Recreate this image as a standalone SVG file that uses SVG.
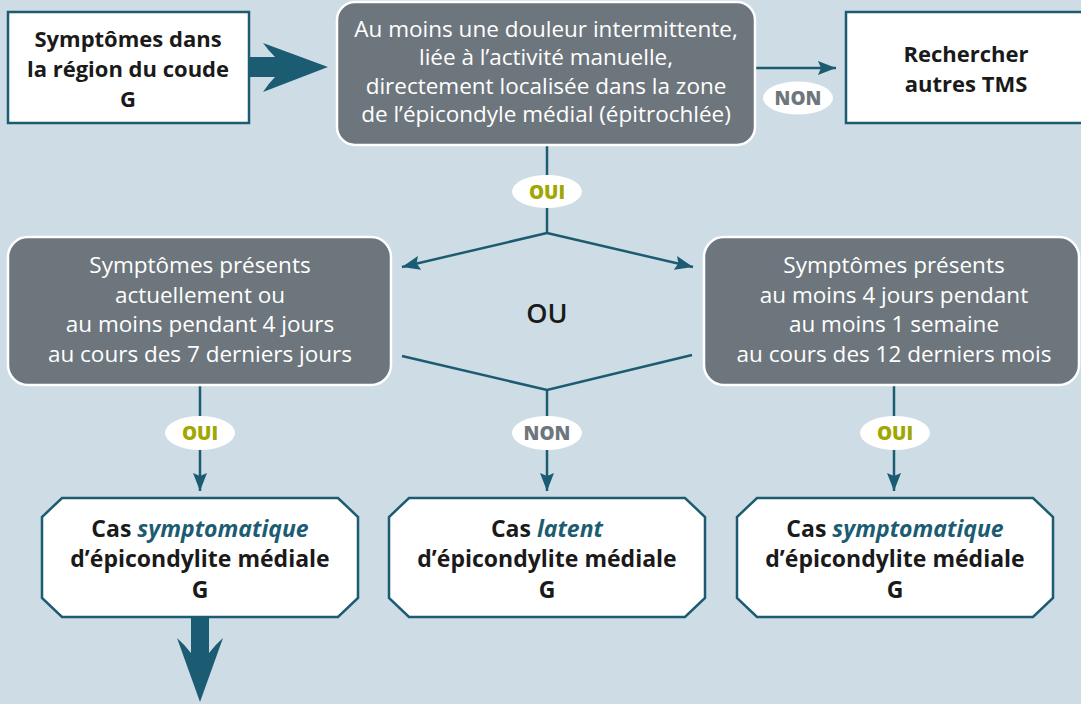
<svg xmlns="http://www.w3.org/2000/svg" width="1081" height="704" viewBox="0 0 1081 704">
  <style>
    .bg { fill: #cedde5; }
    .box-white { fill: #ffffff; stroke: #1c5c72; stroke-width: 2.5; }
    .box-gray { fill: #6e767d; stroke: #ffffff; stroke-width: 2.5; }
    .t-bold { font-family: "Open Sans", "Noto Sans", sans-serif; font-weight: bold; font-size: 22px; fill: #1a1a1a; text-anchor: middle; }
    .t-case { font-size: 23px; }
    .t-gray { font-family: "Open Sans", "Noto Sans", sans-serif; font-size: 22.5px; fill: #ffffff; text-anchor: middle; }
    .em { font-style: italic; fill: #1c5c72; }
    .conn { stroke: #1c5c72; stroke-width: 2.5; fill: none; }
    .thick { fill: #1c5c72; }
    .pill { fill: #ffffff; }
    .lbl { font-family: "Open Sans", "Noto Sans", sans-serif; font-weight: 800; font-size: 19px; text-anchor: middle; }
    .oui { fill: #a0a700; }
    .non { fill: #6e767d; }
    .ou { font-family: "Open Sans", "Noto Sans", sans-serif; font-size: 27px; font-weight: 600; fill: #1a1a1a; text-anchor: middle; }
  </style>
  <defs>
    <marker id="arrow" viewBox="0 0 18 14" refX="18" refY="7" markerWidth="18" markerHeight="14" markerUnits="userSpaceOnUse" orient="auto">
      <path d="M0,0 L18,7 L0,14 L3,7 Z" fill="#1c5c72"/>
    </marker>
  </defs>

  <rect class="bg" x="0" y="0" width="1081" height="704"/>

  <!-- connectors -->
  <g id="connectors">
    <path class="thick" d="M249,57 L275,57 Q268,50 263,43 L328,67 L263,92 Q268,84 275,77 L249,77 Z"/>
    <line class="conn" x1="755" y1="68" x2="836" y2="68" marker-end="url(#arrow)"/>
    <line class="conn" x1="547" y1="145" x2="547" y2="233"/>
    <line class="conn" x1="547" y1="233" x2="402" y2="267" marker-end="url(#arrow)"/>
    <line class="conn" x1="547" y1="233" x2="693" y2="267" marker-end="url(#arrow)"/>
    <polyline class="conn" points="402,356 547,390 692,355"/>
    <line class="conn" x1="547" y1="390" x2="547" y2="491" marker-end="url(#arrow)"/>
    <line class="conn" x1="200" y1="385" x2="200" y2="491" marker-end="url(#arrow)"/>
    <line class="conn" x1="894" y1="385" x2="894" y2="491" marker-end="url(#arrow)"/>
    <path class="thick" d="M191,617 L191,653 Q185,645 177,638 L200,702 L223,638 Q215,645 209,653 L209,617 Z"/>
  </g>

  <!-- connector labels -->
  <g id="labels">
    <ellipse class="pill" cx="798" cy="98" rx="35" ry="16.5"/>
    <text class="lbl non" x="798" y="105">NON</text>
    <ellipse class="pill" cx="547" cy="191.5" rx="35" ry="16.5"/>
    <text class="lbl oui" x="547" y="198.5">OUI</text>
    <ellipse class="pill" cx="200" cy="433" rx="35" ry="17"/>
    <text class="lbl oui" x="200" y="440">OUI</text>
    <ellipse class="pill" cx="547" cy="433" rx="35" ry="17"/>
    <text class="lbl non" x="547" y="440">NON</text>
    <ellipse class="pill" cx="895" cy="433" rx="35" ry="17"/>
    <text class="lbl oui" x="895" y="440">OUI</text>
    <text class="ou" x="547" y="323">OU</text>
  </g>

  <!-- nodes -->
  <g id="node-symptomes">
    <rect class="box-white" x="8" y="12" width="241" height="111"/>
    <text class="t-bold" x="128" y="47">Symptômes dans</text>
    <text class="t-bold" x="128" y="77">la région du coude</text>
    <text class="t-bold" x="128" y="107">G</text>
  </g>

  <g id="node-douleur">
    <rect class="box-gray" x="337" y="2" width="418" height="143" rx="18"/>
    <text class="t-gray" x="546" y="37">Au moins une douleur intermittente,</text>
    <text class="t-gray" x="546" y="65">liée à l’activité manuelle,</text>
    <text class="t-gray" x="546" y="94">directement localisée dans la zone</text>
    <text class="t-gray" x="546" y="122">de l’épicondyle médial (épitrochlée)</text>
  </g>

  <g id="node-autres-tms">
    <rect class="box-white" x="846" y="12" width="250" height="111"/>
    <text class="t-bold" x="966" y="62">Rechercher</text>
    <text class="t-bold" x="966" y="92">autres TMS</text>
  </g>

  <g id="node-7-jours">
    <rect class="box-gray" x="8" y="237" width="383" height="148" rx="20"/>
    <text class="t-gray" x="200" y="273">Symptômes présents</text>
    <text class="t-gray" x="200" y="303">actuellement ou</text>
    <text class="t-gray" x="200" y="332">au moins pendant 4 jours</text>
    <text class="t-gray" x="200" y="362">au cours des 7 derniers jours</text>
  </g>

  <g id="node-12-mois">
    <rect class="box-gray" x="704" y="237" width="375" height="148" rx="20"/>
    <text class="t-gray" x="894" y="273">Symptômes présents</text>
    <text class="t-gray" x="894" y="303">au moins 4 jours pendant</text>
    <text class="t-gray" x="894" y="332">au moins 1 semaine</text>
    <text class="t-gray" x="894" y="362">au cours des 12 derniers mois</text>
  </g>

  <g id="node-cas-symptomatique-1">
    <polygon class="box-white" points="62,498 338,498 358,517 358,598 338,617 62,617 42,598 42,517"/>
    <text class="t-bold t-case" x="200" y="537">Cas <tspan class="em">symptomatique</tspan></text>
    <text class="t-bold t-case" x="200" y="567">d’épicondylite médiale</text>
    <text class="t-bold t-case" x="200" y="598">G</text>
  </g>

  <g id="node-cas-latent">
    <polygon class="box-white" points="409,498 685,498 705,517 705,598 685,617 409,617 389,598 389,517"/>
    <text class="t-bold t-case" x="547" y="537">Cas <tspan class="em">latent</tspan></text>
    <text class="t-bold t-case" x="547" y="567">d’épicondylite médiale</text>
    <text class="t-bold t-case" x="547" y="598">G</text>
  </g>

  <g id="node-cas-symptomatique-2">
    <polygon class="box-white" points="757,498 1033,498 1053,517 1053,598 1033,617 757,617 737,598 737,517"/>
    <text class="t-bold t-case" x="895" y="537">Cas <tspan class="em">symptomatique</tspan></text>
    <text class="t-bold t-case" x="895" y="567">d’épicondylite médiale</text>
    <text class="t-bold t-case" x="895" y="598">G</text>
  </g>
</svg>
